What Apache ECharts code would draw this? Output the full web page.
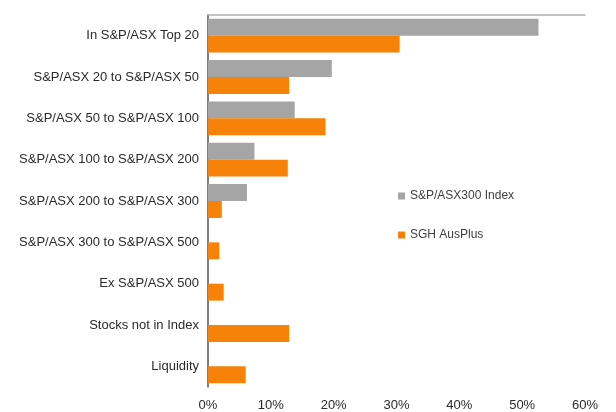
<!DOCTYPE html>
<html>
<head>
<meta charset="utf-8">
<script src="https://cdn.jsdelivr.net/npm/echarts@6/dist/echarts.min.js"></script>
<style>
  html, body { margin: 0; padding: 0; background: #fff; }
  #chart { width: 616px; height: 412px; }
</style>
</head>
<body>
<div id="chart"></div>
<script>
// categories, top to bottom
const categories = [
  'In S&P/ASX Top 20',
  'S&P/ASX 20 to S&P/ASX 50',
  'S&P/ASX 50 to S&P/ASX 100',
  'S&P/ASX 100 to S&P/ASX 200',
  'S&P/ASX 200 to S&P/ASX 300',
  'S&P/ASX 300 to S&P/ASX 500',
  'Ex S&P/ASX 500',
  'Stocks not in Index',
  'Liquidity'
]
const indexWeights = [52.6, 19.7, 13.8, 7.4, 6.2, null, null, null, null]
const ausPlusWeights = [30.5, 12.9, 18.7, 12.7, 2.2, 1.8, 2.5, 12.9, 6.0]
const seriesNames = ['S&P/ASX300 Index', 'SGH AusPlus']

const chart = echarts.init(document.getElementById('chart'))
const font = 'Liberation Sans, Arial, sans-serif'

chart.setOption({
  animation: false,
  textStyle: { fontFamily: font },
  legend: {
    orient: 'vertical',
    left: 393,
    top: 185,
    itemWidth: 7,
    itemHeight: 7,
    itemGap: 27,
    icon: 'rect',
    textStyle: { fontSize: 12, color: '#404040', fontFamily: font },
    data: seriesNames
  },
  grid: { left: 208, right: 31, top: 15, bottom: 24 },
  xAxis: [
    {
      type: 'value', min: 0, max: 60, interval: 10,
      axisLine: { show: false },
      axisTick: { show: false },
      splitLine: { show: false },
      axisLabel: { formatter: '{value}%', fontSize: 13, color: '#2a2a2a', margin: 12, fontFamily: font }
    },
    {
      type: 'value', position: 'top', min: 0, max: 60,
      axisLine: { show: true, lineStyle: { color: '#b0b0b0', width: 1.5 } },
      axisTick: { show: false },
      axisLabel: { show: false },
      splitLine: { show: false }
    }
  ],
  yAxis: {
    type: 'category',
    inverse: true,
    data: categories,
    axisLine: { lineStyle: { color: '#555', width: 1.5 } },
    axisTick: { show: false },
    axisLabel: { fontSize: 13, color: '#2a2a2a', margin: 9, fontFamily: font }
  },
  series: [
    {
      name: seriesNames[0], type: 'bar', data: indexWeights,
      itemStyle: { color: '#a5a5a5' },
      barGap: '0%', barCategoryGap: '18%'
    },
    {
      name: seriesNames[1], type: 'bar', data: ausPlusWeights,
      itemStyle: { color: '#f7820a' },
      barGap: '0%', barCategoryGap: '18%'
    }
  ]
})
</script>
</body>
</html>
